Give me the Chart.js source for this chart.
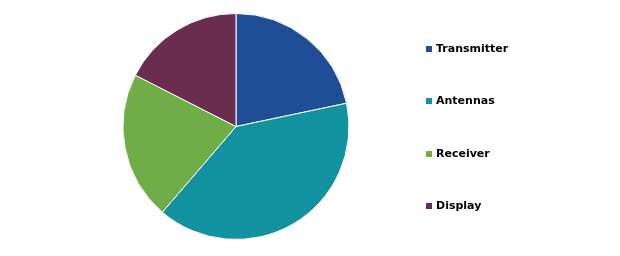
<!DOCTYPE html>
<html>
<head>
<meta charset="utf-8">
<script src="https://cdn.jsdelivr.net/npm/chart.js@4/dist/chart.umd.min.js"></script>
<style>
  html, body { margin: 0; padding: 0; background: #fff; }
  #wrap { position: relative; width: 620px; height: 256px; }
  #legend { position: absolute; left: 426px; top: 0; font-family: "DejaVu Sans", Verdana, sans-serif; font-weight: bold; font-size: 11px; color: #000; }
  .item { position: absolute; left: 0; white-space: nowrap; height: 12px; line-height: 12px; }
  .box { position: absolute; left: 0; top: 3px; width: 6px; height: 6px; }
  .lbl { position: absolute; left: 10px; top: 0; }
</style>
</head>
<body>
<div id="wrap">
  <canvas id="myChart" width="620" height="256"></canvas>
  <div id="legend"></div>
</div>
<script>
const labels = ["Transmitter", "Antennas", "Receiver", "Display"];
const shares = [21.7, 39.6, 21.2, 17.5];
const colors = ["#1f4e96", "#12929e", "#70ad47", "#6b2d4f"];

// legend on the right ------------------
const legend = document.getElementById("legend");
labels.forEach((name, i) => {
  const item = document.createElement("div");
  item.className = "item";
  item.style.top = 43 + i * 52.3 + "px";
  item.innerHTML = '<span class="box" style="background:' + colors[i] + '"></span><span class="lbl">' + name + "</span>";
  legend.appendChild(item);
});

// chart.js pie ------------------
const ctx = document.getElementById("myChart").getContext("2d");
const myChart = new Chart(ctx, {
  type: "pie",
  data: {
    labels: labels,
    datasets: [
      {
        data: shares,
        backgroundColor: colors,
        borderColor: "#ffffff",
        borderWidth: 1,
      },
    ],
  },
  options: {
    responsive: false,
    animation: false,
    layout: {
      padding: { left: 122, right: 270, top: 13, bottom: 16 },
    },
    plugins: {
      legend: { display: false },
      tooltip: { enabled: false },
    },
  },
});
</script>
</body>
</html>
